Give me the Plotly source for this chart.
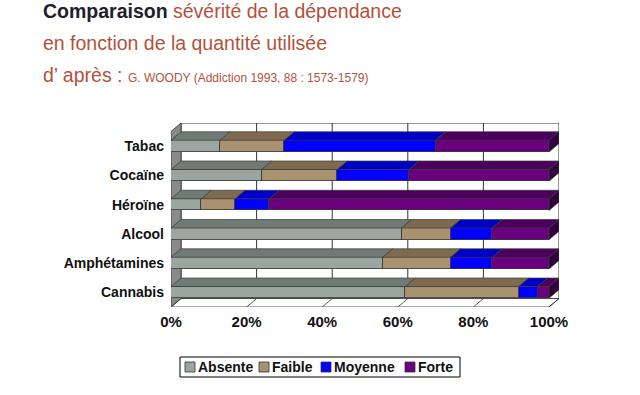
import plotly.graph_objects as go

# ---------------- data ----------------
categories = ["Tabac", "Cocaïne", "Héroïne", "Alcool", "Amphétamines", "Cannabis"]
series_names = ["Absente", "Faible", "Moyenne", "Forte"]
absente = [13, 24, 8, 61, 56, 62]
faible = [17, 20, 9, 13, 18, 30]
moyenne = [40, 19, 9, 11, 11, 5]
forte = [30, 37, 74, 15, 15, 3]
x_ticks = [0, 20, 40, 60, 80, 100]
x_tick_labels = ["0%", "20%", "40%", "60%", "80%", "100%"]

# ---------------- styles ----------------
front_colors = ["#9aa69f", "#a8926f", "#0000ff", "#6a0080"]
top_colors = ["#6f7c75", "#7e6b4f", "#0000c4", "#4a005c"]
end_color = "#33003f"
edge = "#3a3a3a"
FONT = "Liberation Sans, Arial, sans-serif"

# 3D depth offsets (data units)
DX = 2.65
DY = 0.29
BW = 0.4

W, H = 640, 395
ML, MR, MT, MB = 171, 81, 123, 88
plot_w = W - ML - MR
plot_h = H - MT - MB


def py(ypx):
    return (H - MB - ypx) / plot_h


def px(xpx):
    return (xpx - ML) / plot_w


n = len(categories)
ypos = [n - 1 - i for i in range(n)]
series = [absente, faible, moyenne, forte]

fig = go.Figure()

# front faces (native stacked bars)
for name, vals, col in zip(series_names, series, front_colors):
    fig.add_trace(go.Bar(
        name=name, x=vals, y=ypos, orientation="h", width=BW,
        marker=dict(color=col, line=dict(color=edge, width=0.8)),
        hoverinfo="x+name", showlegend=False,
    ))

# top faces built from the same data
cum = [0] * n
for s_i, (vals, col) in enumerate(zip(series, top_colors)):
    xs, ys = [], []
    for i in range(n):
        x0 = cum[i]
        x1 = cum[i] + vals[i]
        yt = ypos[i] + BW / 2
        xs += [x0, x1, x1 + DX, x0 + DX, x0, None]
        ys += [yt, yt, yt + DY, yt + DY, yt, None]
        cum[i] = x1
    fig.add_trace(go.Scatter(
        x=xs, y=ys, mode="lines", fill="toself", fillcolor=col,
        line=dict(color=edge, width=0.7), showlegend=False, hoverinfo="skip",
    ))

# right end faces
xs, ys = [], []
for i in range(n):
    xe = cum[i]
    yb = ypos[i] - BW / 2
    yt = ypos[i] + BW / 2
    xs += [xe, xe + DX, xe + DX, xe, xe, None]
    ys += [yb, yb + DY, yt + DY, yt, yb, None]
fig.add_trace(go.Scatter(
    x=xs, y=ys, mode="lines", fill="toself", fillcolor=end_color,
    line=dict(color=edge, width=0.7), showlegend=False, hoverinfo="skip",
))

# ---------------- walls / floor (axes decoration) ----------------
ylo, yhi = -0.5, n - 0.5
shapes = []
shapes.append(dict(type="rect", xref="x", yref="y", x0=DX, x1=100 + DX,
                   y0=ylo + DY, y1=yhi + DY, fillcolor="white",
                   line=dict(color="#333333", width=1), layer="below"))
for v in x_ticks[1:-1]:
    shapes.append(dict(type="line", xref="x", yref="y", x0=v + DX, x1=v + DX,
                       y0=ylo + DY, y1=yhi + DY,
                       line=dict(color="#333333", width=1), layer="below"))
shapes.append(dict(type="path", xref="x", yref="y",
                   path=f"M 0 {ylo} L {DX} {ylo+DY} L {DX} {yhi+DY} L 0 {yhi} Z",
                   fillcolor="#8a8a8a", line=dict(color="#333333", width=0.8),
                   layer="below"))
shapes.append(dict(type="path", xref="x", yref="y",
                   path=f"M 0 {ylo} L 100 {ylo} L {100+DX} {ylo+DY} L {DX} {ylo+DY} Z",
                   fillcolor="white", line=dict(color="#333333", width=0.8),
                   layer="below"))
for v in x_ticks:
    shapes.append(dict(type="line", xref="x", yref="y", x0=v, x1=v + DX,
                       y0=ylo, y1=ylo + DY,
                       line=dict(color="#333333", width=0.8), layer="below"))

# ---------------- title ----------------
rust = "#b3513c"
dark = "#20202c"
annotations = [
    dict(text=f"<span style='color:{dark}'><b>Comparaison</b></span> sévérité de la dépendance",
         x=px(41), y=py(11)),
    dict(text="en fonction de la quantité utilisée", x=px(41), y=py(43)),
    dict(text="d’ après : <span style='font-size:12px'>G. WOODY (Addiction 1993, 88 : 1573-1579)</span>",
         x=px(41), y=py(75)),
]
for a in annotations:
    a.update(xref="paper", yref="paper", xanchor="left", yanchor="middle",
             showarrow=False, font=dict(family=FONT, size=19.5, color=rust))

# ---------------- legend (boxed, horizontal) ----------------
leg_top, leg_bot = 357, 377
shapes.append(dict(type="rect", xref="paper", yref="paper",
                   x0=px(180), x1=px(460), y0=py(leg_bot), y1=py(leg_top),
                   line=dict(color="#000000", width=1), fillcolor="white"))
swatch_x = [185, 259, 321, 405]
text_x = [198, 272, 334, 418]
for name, col, sx, tx in zip(series_names, front_colors, swatch_x, text_x):
    shapes.append(dict(type="rect", xref="paper", yref="paper",
                       x0=px(sx), x1=px(sx + 10), y0=py(372), y1=py(362),
                       fillcolor=col, line=dict(color="#333333", width=0.8)))
    annotations.append(dict(text=f"<b>{name}</b>", xref="paper", yref="paper",
                            x=px(tx - 2), y=py(367), xanchor="left", yanchor="middle",
                            showarrow=False,
                            font=dict(family=FONT, size=14, color="#111111")))

fig.update_layout(
    width=W, height=H,
    margin=dict(l=ML, r=MR, t=MT, b=MB, pad=0, autoexpand=False),
    paper_bgcolor="white", plot_bgcolor="rgba(0,0,0,0)",
    barmode="stack",
    bargap=0,
    shapes=shapes,
    annotations=annotations,
    showlegend=False,
    font=dict(family=FONT),
)
fig.update_xaxes(range=[0, 100 + DX], tickvals=x_ticks, ticktext=x_tick_labels,
                 showgrid=False, zeroline=False, showline=False,
                 ticks="outside", ticklen=1, tickcolor="rgba(0,0,0,0)",
                 tickfont=dict(family=FONT, size=15, color="#111111", weight="bold"),
                 fixedrange=True, automargin=False)
fig.update_yaxes(range=[ylo, yhi + DY], tickvals=ypos, ticktext=categories,
                 showgrid=False, zeroline=False, showline=False,
                 ticks="", ticklabelstandoff=6,
                 tickfont=dict(family=FONT, size=14, color="#111111", weight="bold"),
                 fixedrange=True, automargin=False)

fig.write_html("out.html", config={"displayModeBar": False},
               post_script="document.body.style.margin='0';")
